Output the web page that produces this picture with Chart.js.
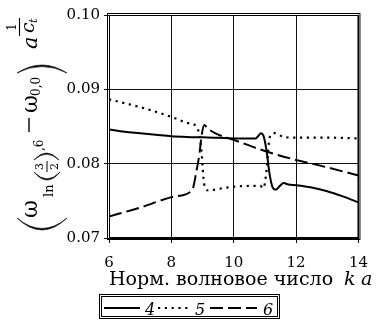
<!DOCTYPE html>
<html>
<head>
<meta charset="utf-8">
<script src="https://cdn.jsdelivr.net/npm/chart.js@4.4.1/dist/chart.umd.min.js"></script>
<style>
html,body{margin:0;padding:0;background:#fff;}
#wrap{width:379px;height:322px;position:relative;}
</style>
</head>
<body>
<div id="wrap"><canvas id="c" width="379" height="322"></canvas></div>
<script>
// ---- data ----
const xTicks = [6, 8, 10, 12, 14];
const yTicks = [0.07, 0.08, 0.09, 0.10];
const seriesNames = ['4', '5', '6'];

const s4x = [6, 6.5, 7, 7.5, 8, 8.5, 9, 9.5, 10, 10.5, 10.7, 10.8, 10.87, 10.95, 11.05, 11.15, 11.25, 11.35, 11.5, 11.6, 11.75, 12, 12.5, 13, 13.5, 14];
const s4y = [0.0846, 0.0843, 0.0841, 0.0839, 0.0837, 0.0836, 0.08355, 0.0835, 0.0834, 0.0834, 0.0834, 0.0838, 0.0841, 0.0838, 0.0818, 0.0786, 0.0768, 0.0765, 0.0771, 0.0774, 0.0772, 0.0771, 0.0768, 0.0763, 0.0756, 0.0748];

const s5x = [6, 7, 8, 8.5, 8.8, 8.9, 8.97, 9.02, 9.08, 9.2, 9.5, 10, 10.5, 10.85, 10.95, 11.05, 11.1, 11.15, 11.3, 11.6, 12, 13, 14];
const s5y = [0.08865, 0.0876, 0.0863, 0.0855, 0.0850, 0.0838, 0.0815, 0.0785, 0.0767, 0.0764, 0.0766, 0.0769, 0.0770, 0.0770, 0.0767, 0.0790, 0.0815, 0.0835, 0.0841, 0.0836, 0.0835, 0.0835, 0.0834];

const s6x = [6, 7, 8, 8.6, 8.7, 8.8, 8.9, 8.97, 9.06, 9.15, 9.4, 10, 11, 12, 13, 14];
const s6y = [0.0729, 0.0741, 0.0755, 0.0762, 0.0768, 0.0789, 0.0813, 0.0838, 0.0852, 0.0848, 0.0841, 0.0832, 0.0817, 0.0805, 0.0795, 0.0784];

const xTitle = 'Норм. волновое число';
const xTitleVars = ['k', 'a'];

const SERIF = '"DejaVu Serif", "Liberation Serif", serif';
function pts(xs, ys){ return xs.map((x,i)=>({x:x, y:ys[i]})); }

const styles = [
  {dash: [], width: 2},
  {dash: [2.2, 4.6], width: 2.2},
  {dash: [13, 5], width: 2}
];

const datasets = [pts(s4x,s4y), pts(s5x,s5y), pts(s6x,s6y)].map((d,i)=>({
  label: seriesNames[i],
  data: d,
  borderColor: '#000',
  backgroundColor: '#000',
  borderWidth: styles[i].width,
  borderDash: styles[i].dash,
  borderCapStyle: 'butt',
  pointRadius: 0,
  cubicInterpolationMode: 'monotone',
  fill: false
}));

const decor = {
  id: 'decor',
  afterDraw(chart){
    const ctx = chart.ctx;
    const a = chart.chartArea;
    ctx.save();
    // outer frame line (double border)
    ctx.strokeStyle = '#000';
    ctx.lineWidth = 1;
    ctx.strokeRect(a.left - 1.5, a.top - 1.5, (a.right - a.left) + 3, (a.bottom - a.top) + 3);
    ctx.strokeRect(a.left + 0.5, a.top + 0.5, (a.right - a.left) - 1, (a.bottom - a.top) - 1);

    // x title
    ctx.fillStyle = '#000';
    ctx.textBaseline = 'alphabetic';
    ctx.textAlign = 'left';
    ctx.font = '19px ' + SERIF;
    ctx.fillText(xTitle, 109, 285);
    ctx.font = 'italic 19px ' + SERIF;
    ctx.fillText(xTitleVars[0], 344, 285);
    ctx.fillText(xTitleVars[1], 361, 285);

    // legend
    ctx.lineWidth = 1;
    ctx.strokeRect(99.5, 294.5, 180, 24);
    ctx.strokeRect(101.5, 296.5, 176, 20);
    const ly = 308;
    const samples = [[104,140],[158,188],[210,257]];
    const labelX = [145, 195, 263];
    chart.data.datasets.forEach((ds,i)=>{
      ctx.beginPath();
      ctx.setLineDash(ds.borderDash || []);
      ctx.lineWidth = ds.borderWidth;
      ctx.lineCap = 'butt';
      ctx.moveTo(samples[i][0], ly);
      ctx.lineTo(samples[i][1], ly);
      ctx.stroke();
      ctx.setLineDash([]);
      ctx.font = 'italic 16px ' + SERIF;
      ctx.fillText(ds.label, labelX[i], 315);
    });

    // y title (rotated math expression)
    ctx.translate(37, 232);
    ctx.rotate(-Math.PI/2);
    function put(t, size, u, v, italic){
      ctx.font = (italic ? 'italic ' : '') + size + 'px ' + SERIF;
      ctx.fillText(t, u, v);
    }
    function paren(uEnds, uMid, v1, v2, w){
      const vm = (v1 + v2) / 2;
      const dir = Math.sign(uEnds - uMid);
      const c1 = 2*uMid - uEnds;
      const c2 = 2*(uMid + dir*w) - uEnds;
      ctx.beginPath();
      ctx.moveTo(uEnds, v1);
      ctx.quadraticCurveTo(c1, vm, uEnds, v2);
      ctx.quadraticCurveTo(c2, vm, uEnds, v1);
      ctx.closePath();
      ctx.fill();
      ctx.lineWidth = 0.6;
      ctx.stroke();
    }
    function bar(u1, u2, v, w){
      ctx.lineWidth = w;
      ctx.beginPath(); ctx.moveTo(u1, v); ctx.lineTo(u2, v); ctx.stroke();
    }
    paren(14, 2, -20, 30, 1.6);
    put('ω', 22, 14, 0);
    put('ln', 13, 35, 16);
    paren(60, 52, -3, 23, 1.2);
    put('3', 11, 62, 6);
    bar(60, 71, 10, 1);
    put('2', 11, 62, 21);
    paren(72, 79, -3, 22, 1.2);
    put(',6', 12, 81, 6);
    bar(100, 114, -8, 1.4);
    put('ω', 22, 119, 0);
    put('0,0', 12, 136, 3);
    paren(159, 167, -20, 30, 1.6);
    put('a', 21, 183, 0, true);
    put('1', 12, 201, -21);
    bar(196, 214, -17.5, 1.1);
    put('c', 19, 199, -3, true);
    put('t', 11, 209, 0, true);
    ctx.restore();
  }
};

new Chart(document.getElementById('c'), {
  type: 'line',
  data: { datasets: datasets },
  plugins: [decor],
  options: {
    responsive: false,
    animation: false,
    events: [],
    layout: { padding: { left: 0, top: 15, right: 10, bottom: 0 } },
    plugins: { legend: { display: false }, tooltip: { enabled: false }, title: { display: false } },
    scales: {
      x: {
        type: 'linear',
        min: 6, max: 14,
        afterBuildTicks(s){ s.ticks = xTicks.map(v=>({value:v})); },
        afterFit(s){ s.height = 84; },
        grid: { color: '#111', lineWidth: 1, tickLength: 5, drawTicks: true },
        border: { display: true, color: '#000', width: 1 },
        ticks: { color: '#000', font: { family: SERIF, size: 15 }, padding: 11, maxRotation: 0, autoSkip: false,
          callback: v => String(v) }
      },
      y: {
        type: 'linear',
        min: 0.07, max: 0.10,
        afterBuildTicks(s){ s.ticks = yTicks.map(v=>({value:v})); },
        afterFit(s){ s.width = 109; },
        grid: { color: '#111', lineWidth: 1, tickLength: 5, drawTicks: true },
        border: { display: true, color: '#000', width: 1 },
        ticks: { color: '#000', font: { family: SERIF, size: 15 }, padding: 4, autoSkip: false,
          callback: v => Number(v).toFixed(2) }
      }
    }
  }
});
</script>
</body>
</html>
